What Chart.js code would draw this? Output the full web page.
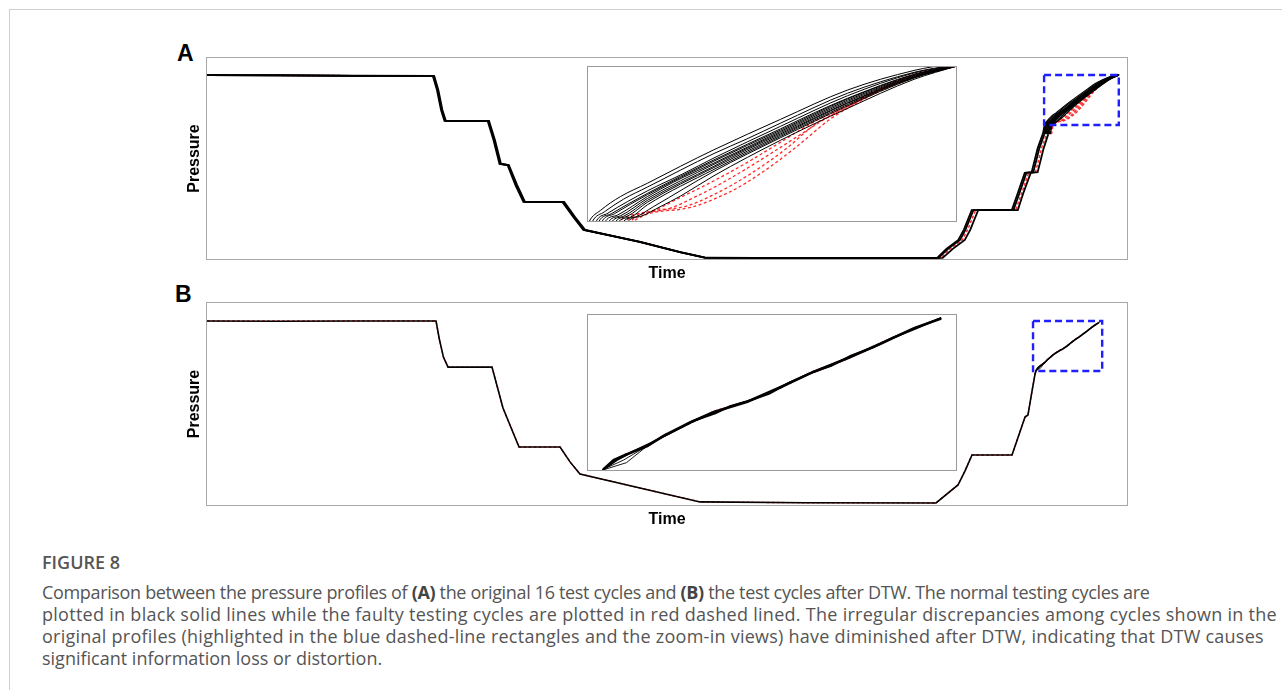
<!DOCTYPE html>
<html>
<head>
<meta charset="utf-8">
<script src="https://cdn.jsdelivr.net/npm/chart.js@4.4.1/dist/chart.umd.min.js"></script>
<style>
  html, body { margin: 0; padding: 0; background: #fff; width: 1282px; height: 690px; overflow: hidden; }
  #frame { position: absolute; left: 9px; top: 9px; width: 1300px; height: 720px;
           border-top: 1px solid #d0d0d0; border-left: 1px solid #d0d0d0; }
  .panel-label { position: absolute; font: bold 23px "Liberation Sans", Arial, sans-serif; color: #000; line-height: 1; }
  canvas { position: absolute; }
  canvas.inset { background: #fff; }
  .caption { position: absolute; left: 42px; top: 551px; font-family: "Open Sans", sans-serif; color: #555; }
  .caption .fig { font-size: 18px; line-height: 22px; font-weight: 600; color: #555; }
  .caption p { margin: 8px 0 0 0; font-size: 18px; line-height: 22px; white-space: nowrap; color: #555; }
  .caption b { color: #444; font-weight: 700; }
  .l1 { letter-spacing: -0.34px; }
  .l2 { letter-spacing: 0.28px; }
  .l3 { letter-spacing: 0.25px; }
</style>
</head>
<body>
<div id="frame"></div>
<div class="panel-label" style="left:177px; top:42px;">A</div>
<div class="panel-label" style="left:175px; top:283px;">B</div>

<canvas id="mainA" width="980" height="250" style="left:160px; top:40px;"></canvas>
<canvas id="insetA" class="inset" width="370" height="156" style="left:587px; top:66px;"></canvas>
<canvas id="mainB" width="980" height="250" style="left:160px; top:285px;"></canvas>
<canvas id="insetB" class="inset" width="370" height="157" style="left:587px; top:314px;"></canvas>

<div class="caption">
  <div class="fig">FIGURE 8</div>
  <p><span class="l1">Comparison between the pressure profiles of <b>(A)</b> the original 16 test cycles and <b>(B)</b> the test cycles after DTW. The normal testing cycles are</span><br><span class="l2">plotted in black solid lines while the faulty testing cycles are plotted in red dashed lined. The irregular discrepancies among cycles shown in the</span><br><span class="l3">original profiles (highlighted in the blue dashed-line rectangles and the zoom-in views) have diminished after DTW, indicating that DTW causes</span><br>significant information loss or distortion.</p>
</div>

<script>
// ---- axis ranges (arbitrary units, no tick labels shown) ----
const timeRange = [0, 1000];
const pressureRange = [0, 100];

// ---- (A) original cycles: [time, pressure] ----
// common part of the profile: earliest, middle and latest normal cycles
const normalLead = [
  [1,91.1],[80,91.0],[160,90.8],[246,90.7],[250.5,83.7],[254.9,73.9],[258.6,68.5],
  [305.5,68.5],[311.8,59.1],[318.3,47.3],[327,46.8],[335.6,36.9],[344.2,28.6],
  [386.5,28.6],[398.3,21.2],[409.2,14.8],[470,9.0],[514,3.9],[541,1.2],[650,1.0],
  [793,1.0],[803,5.5],[816,9.9],[822,15],[830.5,24.6],[874,24.6],[880.5,33],
  [888,42.9],[895.5,43.3],[902,55],[907.5,62]
];
const normalMid = [
  [1,91.1],[80,90.95],[160,90.75],[246.8,90.7],[251.3,83.7],[255.7,73.9],[259.4,68.5],
  [306.3,68.5],[312.6,59.1],[319.2,47.3],[327.8,46.8],[336.6,36.9],[345.1,28.6],
  [387.5,28.6],[399.3,21.2],[410.3,14.8],[470.5,8.9],[514.5,3.85],[541.5,1.15],[650,0.95],
  [794.5,1.0],[804.8,5.5],[817.8,9.9],[823.8,15],[832.3,24.6],[875.8,24.6],[882.3,33],
  [889.8,42.9],[897.3,43.3],[903.8,55],[909.3,62]
];
const normalLag = [
  [1,91.1],[80,90.9],[160,90.7],[247.5,90.7],[252,83.7],[256.4,73.9],[260.2,68.5],
  [307,68.5],[313.4,59.1],[320,47.3],[328.5,46.8],[337.5,36.9],[346,28.6],
  [388.5,28.6],[400.3,21.2],[411.4,14.8],[471,8.8],[515,3.8],[542,1.1],[650,0.9],
  [799,1.0],[810,5.5],[823,9.9],[829,15],[837.5,24.6],[880.5,24.6],[886.5,33],
  [894.5,42.9],[902,43.3],[908.5,55],[913.5,62]
];
const faultyShared = [
  [1,91.1],[160,90.8],[246.8,90.7],[251.2,83.7],[255.6,73.9],[259.4,68.5],
  [306.2,68.5],[312.6,59.1],[319.1,47.3],[327.7,46.8],[336.5,36.9],[345,28.6],
  [387.5,28.6],[399.3,21.2],[410.3,14.8],[470.5,8.9],[514.5,3.8],[541.5,1.1],[650,1.0],
  [797,1.0],[807.2,5.5],[820.2,9.9],[826.2,15],[834.7,24.6],[878.2,24.6],[884.7,33],
  [892.2,42.9],[899.7,43.3],[906.2,55],[911.7,62]
];
// final pressurisation of each cycle (the region inside the blue box)
const normalTails = [
  [[907.3,62],[909.5,66.6],[911.9,68.3],[916.3,70.5],[922.2,72.6],[929.5,75.3],[936.8,77.9],[951.4,82.7],[966,87.3],[980.6,90.4],[989,91.5]],
  [[908,62],[910.2,66.6],[912.8,68.1],[917,70.1],[922.2,72.0],[936.8,77.3],[944,79.6],[951.4,82.1],[966,86.8],[980.6,90.1],[989.5,91.3]],
  [[908.8,62],[911,66.6],[913.6,67.9],[922.2,71.4],[930,74.1],[936.8,76.6],[951.4,81.6],[966,86.4],[980.6,90.0],[989.5,91.2]],
  [[909.4,62],[911.6,66.6],[914.3,67.8],[922.2,71.0],[936.8,76.3],[951.4,81.2],[959,83.8],[966,86.0],[980.6,89.8],[990,91.2]],
  [[910,62],[912.3,66.6],[915,67.8],[922.2,70.8],[936.8,76.1],[951.4,81.0],[966,85.9],[980.6,89.7],[990,91.2]],
  [[910.7,62],[913,66.6],[915.7,67.6],[922.2,70.5],[928,72.8],[936.8,75.8],[951.4,80.8],[966,85.7],[980.6,89.6],[990,91.2]],
  [[911.5,62],[913.8,66.6],[916.4,67.5],[922.2,70.2],[936.8,75.6],[951.4,80.6],[966,85.5],[980.6,89.5],[990,91.1]],
  [[912.2,62],[914.5,66.6],[917,67.4],[922.2,69.9],[936.8,75.3],[944,77.9],[951.4,80.4],[966,85.3],[980.6,89.4],[990,91.1]],
  [[913,62],[915.3,66.6],[917.8,67.4],[922.2,69.6],[936.8,75.1],[951.4,80.2],[966,85.2],[980.6,89.3],[990,91.1]],
  [[913.7,62],[916,66.6],[918.6,67.3],[922.2,69.2],[936.8,74.8],[951.4,80.0],[966,85.0],[980.6,89.3],[990,91.1]],
  [[914.7,62],[917,66.6],[919.6,67.3],[923.5,68.9],[936.8,74.5],[951.4,79.8],[966,84.8],[980.6,89.2],[990,91.1]],
  [[915.7,62],[918,66.6],[920.8,67.4],[925,68.9],[929.5,70.6],[936.8,73.8],[951.4,79.4],[966,84.4],[980.6,89.0],[990,91.1]]
];
const faultyTails = [
  [[914,62],[916,66.5],[922.2,68.0],[929.5,70.4],[936.8,73.0],[944.1,75.9],[951.4,79.1],[958.7,82.3],[966,84.9],[973.3,87.6],[980.6,89.4],[987.9,90.7],[991,91.3]],
  [[915.3,62],[917.3,66.5],[925.8,68.4],[933.1,70.6],[940.4,73.4],[947.7,76.6],[955.1,80.0],[962.4,83.3],[969.7,86.0],[977,88.3],[984.3,90.2],[990,91.2]],
  [[916.3,62],[918.3,66.5],[929.5,68.8],[937.8,71.2],[945,74.2],[952.5,78.0],[959.5,82.2],[966,84.6],[973.3,87.4],[980.6,89.6],[988,91.0]],
  [[917,62],[919,66.5],[929.5,68.5],[940.4,71.3],[947.7,74.5],[955.1,78.5],[962.4,82.8],[969.7,85.9],[977,88.8],[984.3,90.5],[990,91.2]]
];
const zoomWindowA = { time: [909, 990], pressure: [66.5, 91.1] };

// ---- (B) cycles after DTW alignment ----
const alignedNormal = [
  [1,90.7],[80,90.6],[160,90.7],[249.5,90.7],[253,82],[257.5,73],[262.5,68.1],
  [310.2,68.1],[322.1,48],[339.5,28.9],[384,28.9],[395,21.5],[405.6,15.7],
  [470.7,8.8],[535.8,2.0],[650,1.6],[791.8,1.5],[815.6,10.3],[823,17],[830.8,25.0],
  [874.2,25.0],[881,34],[888.3,43.6],[891.5,44.6],[895,54],[899.1,64.5],[900.4,66.5],
  [902.4,67.9],[904.4,68.6],[909.2,70.1],[912.6,71.7],[918.0,73.8],[922.7,75.4],
  [929.5,77.0],[936.3,79.3],[943.0,81.7],[949.8,83.8],[956.6,86.1],[963.3,88.5],[968.8,90.0]
];
const alignedNormalAlt = [
  [899,64.5],[900.4,66.5],[903,67.9],[906.5,69.3],[910,70.6],[914,72.2],[918.5,74.0],
  [923,75.2],[926,76.3],[930,77.2],[934,78.3],[938,80.0],[942,81.4],[946.5,82.6],
  [950.5,84.2],[955,85.5],[959,87.0],[963.5,88.4],[968.8,90.1]
];
const alignedFanA = [[900.4,66.5],[904.4,67.9],[909.2,70.1]];
const alignedFanB = [[900.4,66.4],[905,67.5],[909.2,70.1]];
const alignedFaulty = [
  [1,90.7],[160,90.7],[249.5,90.7],[253,82],[257.5,73],[262.5,68.1],
  [310.2,68.1],[322.1,48],[339.5,28.9],[384,28.9],[395,21.5],[405.6,15.7],
  [470.7,8.8],[535.8,2.0],[650,1.6],[791.8,1.5],[815.6,10.3],[823,17],[830.8,25.0],
  [874.2,25.0],[881,34],[888.3,43.6],[891.5,44.6],[895,54],[899.1,64.5],[900.4,66.5],
  [904.4,68.7],[909.2,70.0],[912.6,71.8],[918.0,73.7],[922.7,75.5],[929.5,77.1],
  [936.3,79.2],[943.0,81.8],[949.8,83.7],[956.6,86.2],[963.3,88.4],[968.8,90.1]
];
const zoomWindowB = { time: [897, 972], pressure: [66.2, 90.7] };

// ---- helpers ----
const toPoints = arr => arr.map(([x, y]) => ({ x, y }));
const BLACK = '#000000';
const RED = '#ff2a2a';
const AXIS_FONT = { family: '"Liberation Sans", Arial, sans-serif', size: 16, weight: 'bold' };

function line(arr, color, width, opts = {}) {
  return Object.assign({
    data: toPoints(arr), borderColor: color, borderWidth: width,
    pointRadius: 0, tension: 0, fill: false, order: 1
  }, opts);
}

// Frame round the plotting area
const frameBox = {
  id: 'frameBox',
  afterDraw(chart, args, o) {
    const { ctx, chartArea: a } = chart;
    ctx.save();
    ctx.strokeStyle = o.color || '#a8a8a8';
    ctx.lineWidth = 1;
    const l = Math.round(a.left) + 0.5, t = Math.round(a.top) + 0.5;
    const r = Math.round(a.right) - 0.5, b = Math.round(a.bottom) - 0.5;
    ctx.strokeRect(l, t, r - l, b - t);
    ctx.restore();
  }
};

// Blue dashed rectangle marking the zoomed window
const zoomBox = {
  id: 'zoomBox',
  afterDatasetsDraw(chart, args, o) {
    if (!o || !o.time) return;
    const xs = chart.scales.x, ys = chart.scales.y;
    const x0 = xs.getPixelForValue(o.time[0]), x1 = xs.getPixelForValue(o.time[1]);
    const y0 = ys.getPixelForValue(o.pressure[1]), y1 = ys.getPixelForValue(o.pressure[0]);
    const { ctx } = chart;
    ctx.save();
    ctx.strokeStyle = '#1f1fff';
    ctx.lineWidth = 2.4;
    ctx.setLineDash([7, 4]);
    ctx.strokeRect(x0, y0, x1 - x0, y1 - y0);
    ctx.restore();
  }
};

function mainOptions(padBottom, win) {
  return {
    responsive: false, animation: false, devicePixelRatio: 1,
    events: [],
    layout: { padding: { left: 24.8, top: 17, right: 12, bottom: padBottom } },
    plugins: {
      legend: { display: false }, tooltip: { enabled: false },
      frameBox: { color: '#a8a8a8' },
      zoomBox: win
    },
    scales: {
      x: {
        type: 'linear', min: timeRange[0], max: timeRange[1],
        ticks: { display: false }, grid: { display: false, drawTicks: false }, border: { display: false },
        title: { display: true, text: 'Time', color: '#000', font: AXIS_FONT, padding: { top: 4, bottom: 0 } }
      },
      y: {
        type: 'linear', min: pressureRange[0], max: pressureRange[1],
        ticks: { display: false }, grid: { display: false, drawTicks: false }, border: { display: false },
        title: { display: true, text: 'Pressure', color: '#000', font: AXIS_FONT, padding: { top: 0, bottom: 2 } }
      }
    }
  };
}

function insetOptions(win) {
  return {
    responsive: false, animation: false, devicePixelRatio: 1,
    events: [],
    layout: { padding: 0 },
    plugins: { legend: { display: false }, tooltip: { enabled: false }, frameBox: { color: '#9a9a9a' } },
    scales: {
      x: { type: 'linear', display: false, min: win.time[0], max: win.time[1] },
      y: { type: 'linear', display: false, min: win.pressure[0], max: win.pressure[1] }
    }
  };
}

// ---- (A) datasets ----
function datasetsA(inset) {
  const tailW = inset ? 1 : 1.2;
  const redW = inset ? 1.3 : 1.4;
  const dash = inset ? [3, 2.5] : [3, 2];
  const sharedW = inset ? 1 : 1.8;
  const ds = [];
  ds.push(line(faultyShared, RED, 1.5, { borderDash: [3, 2], order: 2, clip: 0 }));
  faultyTails.forEach(c => ds.push(line(c, RED, redW, {
    borderDash: dash, order: 2, clip: 0, cubicInterpolationMode: 'monotone'
  })));
  ds.push(line(normalLead, BLACK, sharedW, { clip: 0 }));
  ds.push(line(normalMid, BLACK, sharedW, { clip: 0 }));
  ds.push(line(normalLag, BLACK, sharedW, { clip: 0 }));
  normalTails.forEach(c => ds.push(line(c, BLACK, tailW, {
    clip: 0, cubicInterpolationMode: 'monotone'
  })));
  return ds;
}

// ---- (B) datasets ----
function datasetsB(inset) {
  const ds = [];
  ds.push(line(alignedFaulty, RED, inset ? 1.6 : 1.4, { borderDash: [3, 2], order: 2, clip: 0 }));
  ds.push(line(alignedNormal, BLACK, inset ? 2.6 : 1.6, { clip: 0 }));
  ds.push(line(alignedNormalAlt, BLACK, inset ? 2.0 : 1.2, { clip: 0 }));
  ds.push(line(alignedFanA, BLACK, inset ? 0.9 : 0.8, { clip: 0 }));
  ds.push(line(alignedFanB, BLACK, inset ? 0.9 : 0.8, { clip: 0 }));
  return ds;
}

const plugins = [frameBox, zoomBox];

new Chart(document.getElementById('mainA'), {
  type: 'line', data: { datasets: datasetsA(false) },
  options: mainOptions(6.8, zoomWindowA), plugins
});
new Chart(document.getElementById('insetA'), {
  type: 'line', data: { datasets: datasetsA(true) },
  options: insetOptions(zoomWindowA), plugins: [frameBox]
});
new Chart(document.getElementById('mainB'), {
  type: 'line', data: { datasets: datasetsB(false) },
  options: mainOptions(5.8, zoomWindowB), plugins
});
new Chart(document.getElementById('insetB'), {
  type: 'line', data: { datasets: datasetsB(true) },
  options: insetOptions(zoomWindowB), plugins: [frameBox]
});
</script>
</body>
</html>
